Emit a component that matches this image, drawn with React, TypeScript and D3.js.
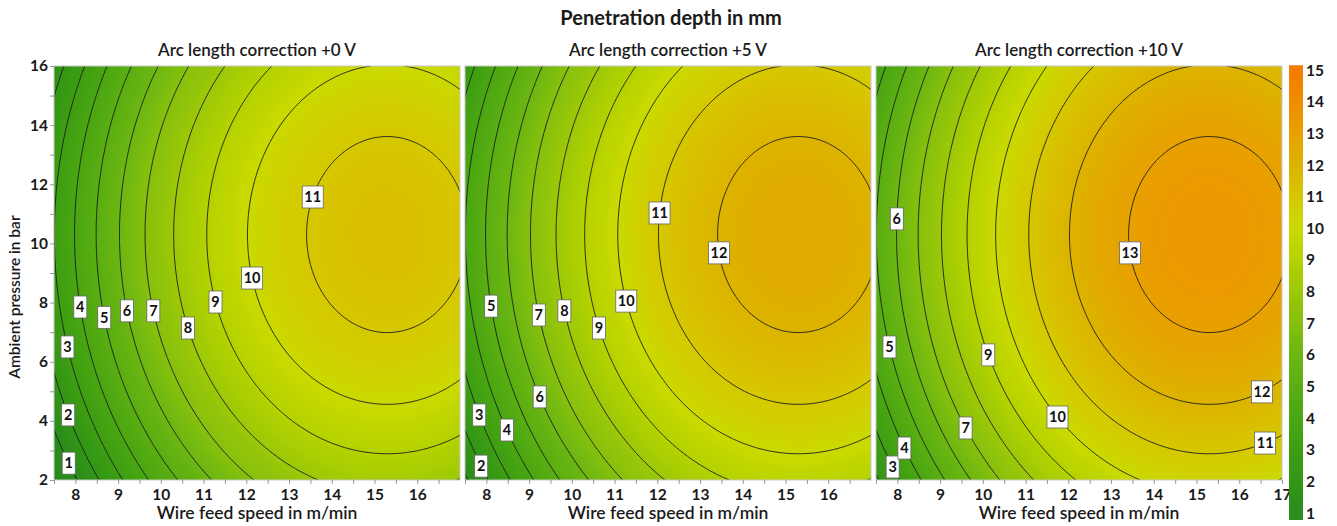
import React, { useEffect, useRef } from 'react';
import * as d3 from 'd3';

const width = 1337;
const height = 526;
const font = 'Lato, "Open Sans", sans-serif';

// axes
const speedDomain = [7.5, 17];
const pressureDomain = [2, 16];
const speedTicks = [
	[8, 9, 10, 11, 12, 13, 14, 15, 16],
	[8, 9, 10, 11, 12, 13, 14, 15, 16],
	[8, 9, 10, 11, 12, 13, 14, 15, 16, 17],
];
const pressureTicks = [2, 4, 6, 8, 10, 12, 14, 16];
const colorbarTicks = [1, 2, 3, 4, 5, 6, 7, 8, 9, 10, 11, 12, 13, 14, 15];

const panelTitles = ['Arc length correction +0 V', 'Arc length correction +5 V', 'Arc length correction +10 V'];

// quadratic response surface per panel
const peakDepth = [11.5, 12.5, 13.5];
const peakSpeed = [15.3, 15.3, 15.3];
const peakPressure = [10.3, 10.3, 10.3];
const curvSpeed = [0.14, 0.14, 0.14];
const curvPressure = [0.0455, 0.0455, 0.0455];

const contourLevels = [1, 2, 3, 4, 5, 6, 7, 8, 9, 10, 11, 12, 13, 14];

// contour labels: [level, pressure, side of the peak]
const labels0 = [[1, 2.57, -1], [2, 4.2, -1], [3, 6.5, -1], [4, 7.85, -1], [5, 7.5, -1], [6, 7.72, -1], [7, 7.72, -1], [8, 7.14, -1], [9, 8.02, -1], [10, 8.83, -1], [11, 11.57, -1]];
const labels1 = [[2, 2.47, -1], [3, 4.2, -1], [4, 3.69, -1], [5, 7.88, -1], [6, 4.81, -1], [7, 7.58, -1], [8, 7.72, -1], [9, 7.14, -1], [10, 8.05, -1], [11, 11.03, -1], [12, 9.68, -1]];
const labels2 = [[3, 2.44, -1], [4, 3.08, -1], [5, 6.5, -1], [6, 10.83, -1], [7, 3.76, -1], [9, 6.23, -1], [10, 4.13, -1], [11, 3.25, 1], [12, 4.98, 1], [13, 9.68, -1]];
const panelLabels = [labels0, labels1, labels2];

// colour bar
const colorStops = [1, 2, 3, 4, 5, 6, 7, 8, 9, 10, 11, 12, 13, 14, 15];
const colorValues = ['#2a8c1c', '#329616', '#3e9e12', '#4aa612', '#5aae12', '#6cb612', '#86c00e', '#9cc808', '#b4d200', '#cada00', '#d6c800', '#dcb400', '#e8a000', '#f08e00', '#f47c00'];

const App = () => {
	const d3Container = useRef<SVGSVGElement>(null);

	useEffect(() => {
		if (!d3Container.current) return;
		const svg = d3.select(d3Container.current);
		svg.selectAll('*').remove();

		const top = 66;
		const bottom = 480;
		const pw = 406;
		const lefts = [54, 465, 876];

		const color = d3.scaleLinear<string>().domain(colorStops).range(colorValues).interpolate(d3.interpolateRgb).clamp(true);
		const y = d3.scaleLinear().domain(pressureDomain).range([bottom, top]);

		const nx = 191;
		const ny = 141;
		const sx = (speedDomain[1] - speedDomain[0]) / (nx - 1);
		const sy = (pressureDomain[1] - pressureDomain[0]) / (ny - 1);

		const defs = svg.append('defs');

		const styleAxis = (g, size) => {
			g.attr('font-family', font).attr('font-size', size).attr('font-weight', 700);
			g.select('.domain').remove();
			g.selectAll('line').attr('stroke', '#999');
			g.selectAll('text').attr('fill', '#1a1a1a');
		};

		panelTitles.forEach((title, p) => {
			const x = d3.scaleLinear().domain(speedDomain).range([lefts[p], lefts[p] + pw]);
			const depth = (s: number, pr: number) =>
				peakDepth[p] - curvSpeed[p] * (s - peakSpeed[p]) ** 2 - curvPressure[p] * (pr - peakPressure[p]) ** 2;

			const values = new Array(nx * ny);
			for (let j = 0; j < ny; j++) {
				for (let i = 0; i < nx; i++) {
					values[j * nx + i] = depth(speedDomain[0] + i * sx, pressureDomain[0] + j * sy);
				}
			}

			const proj = d3.geoTransform({
				point: function (px, py) {
					this.stream.point(x(speedDomain[0] + (px - 0.5) * sx), y(pressureDomain[0] + (py - 0.5) * sy));
				},
			});
			const path = d3.geoPath(proj);

			defs.append('clipPath')
				.attr('id', `clip-${p}`)
				.append('rect')
				.attr('x', x(speedDomain[0]))
				.attr('y', top)
				.attr('width', pw)
				.attr('height', bottom - top);

			const plotg = svg.append('g').attr('clip-path', `url(#clip-${p})`);

			const vmin = d3.min(values) as number;
			plotg.append('rect')
				.attr('x', x(speedDomain[0]))
				.attr('y', top)
				.attr('width', pw)
				.attr('height', bottom - top)
				.attr('fill', color(vmin));

			const step = 0.1;
			const fillThresholds = d3.range(Math.floor(vmin), peakDepth[p], step);
			const bands = d3.contours().size([nx, ny]).thresholds(fillThresholds)(values);
			plotg.selectAll('.band')
				.data(bands)
				.join('path')
				.attr('class', 'band')
				.attr('d', path)
				.attr('fill', d => color(d.value + step / 2))
				.attr('stroke', d => color(d.value + step / 2))
				.attr('stroke-width', 0.3);

			const lines = d3.contours().size([nx, ny]).thresholds(contourLevels)(values);
			plotg.selectAll('.cline')
				.data(lines)
				.join('path')
				.attr('class', 'cline')
				.attr('d', path)
				.attr('fill', 'none')
				.attr('stroke', '#1c1c1c')
				.attr('stroke-width', 0.9);

			// contour labels snapped onto their ring
			const lab = plotg.selectAll('.clabel')
				.data(panelLabels[p])
				.join('g')
				.attr('class', 'clabel')
				.attr('transform', d => {
					const dy = d[1] - peakPressure[p];
					const rem = peakDepth[p] - d[0] - curvPressure[p] * dy * dy;
					const s = peakSpeed[p] + d[2] * Math.sqrt(Math.max(rem, 0) / curvSpeed[p]);
					return `translate(${x(s)},${y(d[1])})`;
				});
			lab.append('rect')
				.attr('x', d => (d[0] >= 10 ? -10.5 : -6.5))
				.attr('y', -11)
				.attr('width', d => (d[0] >= 10 ? 21 : 13))
				.attr('height', 22)
				.attr('fill', '#fff')
				.attr('stroke', '#666')
				.attr('stroke-width', 0.8);
			lab.append('text')
				.attr('text-anchor', 'middle')
				.attr('dy', '0.36em')
				.attr('font-family', font)
				.attr('font-weight', 700)
				.attr('font-size', 14.5)
				.attr('fill', '#111')
				.text(d => d[0]);

			svg.append('rect')
				.attr('x', x(speedDomain[0]))
				.attr('y', top)
				.attr('width', pw)
				.attr('height', bottom - top)
				.attr('fill', 'none')
				.attr('stroke', '#c8c8c8')
				.attr('stroke-width', 1);

			// x axis
			const minorX = d3.range(speedDomain[0], speedDomain[1] + 0.01, 0.5).filter(v => v % 1 !== 0);
			const gxm = svg.append('g')
				.attr('transform', `translate(0,${bottom})`)
				.call(d3.axisBottom(x).tickValues(minorX).tickSize(4).tickFormat(() => ''));
			styleAxis(gxm, 15);

			const gx = svg.append('g')
				.attr('transform', `translate(0,${bottom})`)
				.call(d3.axisBottom(x).tickValues(speedTicks[p]).tickSize(4).tickPadding(5).tickFormat(d3.format('d')));
			styleAxis(gx, 15.5);

			svg.append('text')
				.attr('x', lefts[p] + pw / 2)
				.attr('y', 519)
				.attr('text-anchor', 'middle')
				.attr('font-family', font)
				.attr('font-size', 17.5)
				.attr('font-weight', 600)
				.attr('fill', '#1a1a1a')
				.text('Wire feed speed in m/min');

			svg.append('text')
				.attr('x', lefts[p] + pw / 2)
				.attr('y', 56)
				.attr('text-anchor', 'middle')
				.attr('font-family', font)
				.attr('font-size', 17)
				.attr('font-weight', 600)
				.attr('fill', '#1a1a1a')
				.text(title);

			if (p === 0) {
				const minorY = d3.range(pressureDomain[0], pressureDomain[1] + 0.01, 1).filter(v => !pressureTicks.includes(v));
				const gym = svg.append('g')
					.attr('transform', `translate(${lefts[0]},0)`)
					.call(d3.axisLeft(y).tickValues(minorY).tickSize(4).tickFormat(() => ''));
				styleAxis(gym, 15);

				const gy = svg.append('g')
					.attr('transform', `translate(${lefts[0]},0)`)
					.call(d3.axisLeft(y).tickValues(pressureTicks).tickSize(4).tickPadding(2));
				styleAxis(gy, 15.5);
			}
		});

		svg.append('text')
			.attr('transform', `translate(20,297) rotate(-90)`)
			.attr('text-anchor', 'middle')
			.attr('font-family', font)
			.attr('font-size', 15.5)
			.attr('font-weight', 600)
			.attr('fill', '#1a1a1a')
			.text('Ambient pressure in bar');

		svg.append('text')
			.attr('x', 671)
			.attr('y', 25)
			.attr('text-anchor', 'middle')
			.attr('font-family', font)
			.attr('font-size', 20)
			.attr('font-weight', 700)
			.attr('fill', '#1a1a1a')
			.text('Penetration depth in mm');

		// colour bar
		const cb = d3.scaleLinear().domain([1, 15]).range([513, 70]);
		const cbLo = 0.78;
		const cbHi = 15.15;
		const grad = defs.append('linearGradient')
			.attr('id', 'cbgrad')
			.attr('x1', 0).attr('x2', 0)
			.attr('y1', 1).attr('y2', 0);
		grad.selectAll('stop')
			.data(d3.range(0, 1.0001, 0.02))
			.join('stop')
			.attr('offset', d => d)
			.attr('stop-color', d => color(cbLo + d * (cbHi - cbLo)));
		svg.append('rect')
			.attr('x', 1289)
			.attr('y', cb(cbHi))
			.attr('width', 14)
			.attr('height', cb(cbLo) - cb(cbHi))
			.attr('fill', 'url(#cbgrad)');
		svg.selectAll('.cbtick')
			.data(colorbarTicks)
			.join('text')
			.attr('class', 'cbtick')
			.attr('x', 1306)
			.attr('y', d => cb(d))
			.attr('dy', '0.36em')
			.attr('font-family', font)
			.attr('font-size', 15.5)
			.attr('font-weight', 700)
			.attr('fill', '#1a1a1a')
			.text(d => d);
	}, []);

	return (
		<svg
			ref={d3Container}
			width={width}
			height={height}
			style={{ position: 'absolute', left: 0, top: 0, background: '#fff' }}
		/>
	);
};

export default App;
